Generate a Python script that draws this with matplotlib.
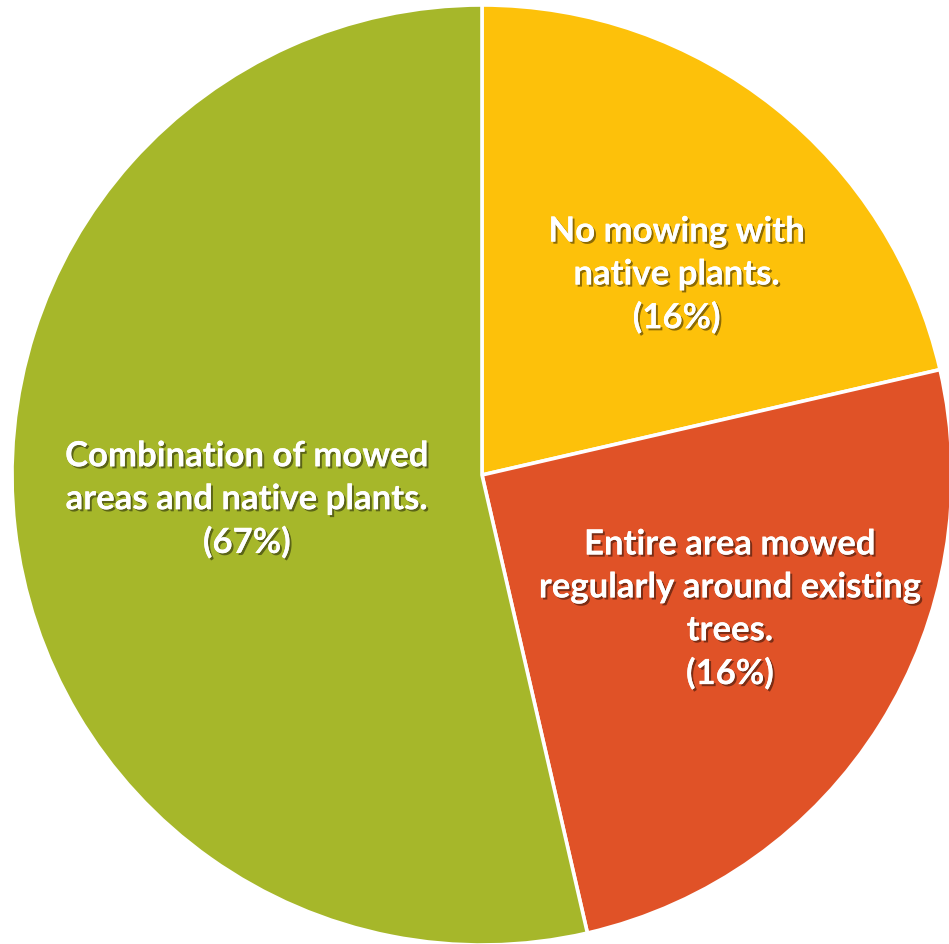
import numpy as np
import matplotlib
matplotlib.use("Agg")
import matplotlib.pyplot as plt
import matplotlib.patheffects as pe

# Data (slice sizes, labels as printed)
labels = [
    "No mowing with\nnative plants.\n(16%)",
    "Entire area mowed\nregularly around existing\ntrees.\n(16%)",
    "Combination of mowed\nareas and native plants.\n(67%)",
]
slice_share = [21.4, 25.0, 53.6]
colors = ["#FDC10A", "#E05227", "#A6B72A"]
label_dist = [0.594, 0.60, 0.503]
label_turn = [-5.7, 3.6, -0.5]   # degrees off the wedge middle

W, H = 949, 944
fig = plt.figure(figsize=(W / 100, H / 100), dpi=100)
ax = fig.add_axes([0, 0, 1, 1])

cx, cy, r = 482, H - 475, 470
wedges, _ = ax.pie(slice_share, colors=colors, startangle=90, counterclock=False,
                   center=(cx, cy), radius=r,
                   wedgeprops=dict(edgecolor="white", linewidth=2.6))
ax.set_xlim(0, W)
ax.set_ylim(0, H)
ax.set_aspect("equal")
ax.axis("off")

shadow = [pe.withSimplePatchShadow(offset=(1.5, -1.5), shadow_rgbFace="black", alpha=0.45),
          pe.Normal()]
for w, lab, d, turn in zip(wedges, labels, label_dist, label_turn):
    mid = np.deg2rad((w.theta1 + w.theta2) / 2 + turn)
    x = cx + d * r * np.cos(mid)
    y = cy + d * r * np.sin(mid)
    t = ax.text(x, y, lab, ha="center", va="center", color="white",
                fontsize=25, fontweight="bold", family=["Lato", "DejaVu Sans"],
                linespacing=1.42)
    t.set_path_effects(shadow)

fig.savefig("out.png", dpi=100)
